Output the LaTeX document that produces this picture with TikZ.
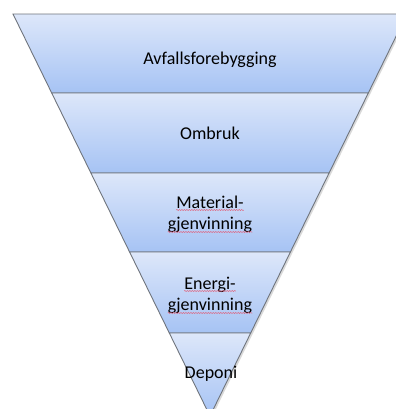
\documentclass[tikz,border=0pt]{standalone}
\usepackage{fontspec}
\setmainfont{Carlito}
\usetikzlibrary{decorations.pathmorphing}
\definecolor{bandtop}{HTML}{DDE7FA}
\definecolor{bandbot}{HTML}{A6C3F4}
\definecolor{edge}{HTML}{6F747C}
\definecolor{spellred}{HTML}{E0607A}
\tikzset{
  band/.style={draw=edge, line width=0.9pt, top color=bandtop, bottom color=bandbot, line join=miter},
  shadowband/.style={fill=black!18, draw=none},
  lab/.style={font=\fontsize{18bp}{22bp}\selectfont, anchor=base, inner sep=0pt, text=black},
  spell/.style={draw=spellred, line width=0.5pt, decorate, decoration={snake, amplitude=0.5pt, segment length=2.5pt}}
}
\begin{document}
\begin{tikzpicture}[x=1bp,y=-1bp]
\useasboundingbox (0,0) rectangle (396,409);
% soft shadow
\fill[black!15] (14.5,16) -- (408.5,16) -- (211.5,418) -- cycle;
% bands
\path[band] (13,14) -- (407,14) -- (368.3,93) -- (51.7,93) -- cycle;
\path[band] (51.7,93) -- (368.3,93) -- (329.1,173) -- (90.9,173) -- cycle;
\path[band] (90.9,173) -- (329.1,173) -- (290.4,252) -- (129.6,252) -- cycle;
\path[band] (129.6,252) -- (290.4,252) -- (250.7,333) -- (169.3,333) -- cycle;
\path[band] (169.3,333) -- (250.7,333) -- (210,416) -- cycle;
% labels
\node[lab] (avf) at (210,64) {Avfallsforebygging};
\node[lab] (omb) at (210,139) {Ombruk};
\node[lab] (mat1) at (210,208) {Material-};
\node[lab] (mat2) at (210,229) {gjenvinning};
\node[lab] (ene1) at (210,289) {Energi-};
\node[lab] (ene2) at (210,310) {gjenvinning};
\node[lab] (dep) at (211,378) {Deponi};
% spell-check marks
\draw[spell] ([yshift=-2bp]mat1.base west) -- ([yshift=-2bp]mat1.base east);
\draw[spell] ([yshift=-3bp]mat2.base west) -- ([yshift=-3bp]mat2.base east);
\draw[spell] ([yshift=-2bp]ene1.base west) -- ([yshift=-2bp]ene1.base east);
\draw[spell] ([yshift=-3bp]ene2.base west) -- ([yshift=-3bp]ene2.base east);
\end{tikzpicture}
\end{document}
